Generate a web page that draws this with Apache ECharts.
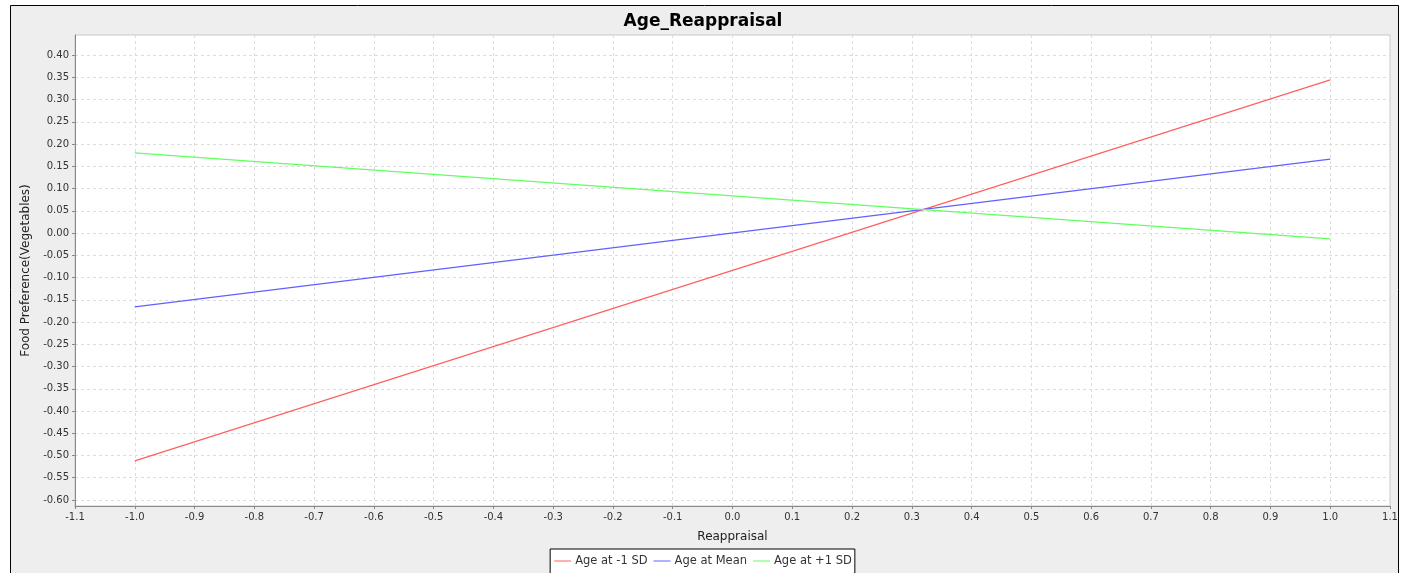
<!DOCTYPE html>
<html><head><meta charset="utf-8">
<script src="https://cdn.jsdelivr.net/npm/echarts@6/dist/echarts.min.js"></script>
<style>html,body{margin:0;padding:0;background:#fff}#c{width:1406px;height:573px}</style>
</head><body><div id="c"></div>
<script>
const title = 'Age_Reappraisal';
const xName = 'Reappraisal';
const yName = 'Food Preference(Vegetables)';
const seriesNames = ['Age at -1 SD', 'Age at Mean', 'Age at +1 SD'];
const seriesColors = ['#ff6060', '#6060ff', '#60ff60'];
const xValues = [-1.0, 1.0];
const lowSD = [-0.512, 0.344];
const meanAge = [-0.166, 0.166];
const highSD = [0.180, -0.013];
const yTicks = [-0.60,-0.55,-0.50,-0.45,-0.40,-0.35,-0.30,-0.25,-0.20,-0.15,-0.10,-0.05,0.00,0.05,0.10,0.15,0.20,0.25,0.30,0.35,0.40];
const xTicks = [-1.1,-1.0,-0.9,-0.8,-0.7,-0.6,-0.5,-0.4,-0.3,-0.2,-0.1,0.0,0.1,0.2,0.3,0.4,0.5,0.6,0.7,0.8,0.9,1.0,1.1];

const allSeries = [lowSD, meanAge, highSD];
const font = 'DejaVu Sans, Liberation Sans, sans-serif';
const chart = echarts.init(document.getElementById('c'), null, {renderer: 'canvas'});
chart.setOption({
  backgroundColor: '#ffffff',
  animation: false,
  graphic: [{
    type: 'rect', z: -10, silent: true,
    shape: {x: 10.5, y: 5.5, width: 1388, height: 580},
    style: {fill: '#eeeeee', stroke: '#000000', lineWidth: 1}
  }],
  title: {
    text: title, left: 'center', top: 8,
    textStyle: {fontFamily: font, fontWeight: 'bold', fontSize: 17, color: '#000'}
  },
  legend: {
    bottom: -4, left: 'center',
    data: seriesNames,
    icon: 'rect', itemWidth: 17, itemHeight: 1, itemGap: 6,
    borderColor: '#000', borderWidth: 1, borderRadius: 0,
    padding: [6, 3, 10, 4],
    backgroundColor: '#ffffff',
    textStyle: {fontFamily: font, fontSize: 11.5, color: '#333', padding: [0,0,0,-1]}
  },
  grid: {
    left: 75, right: 16, top: 35, bottom: 67,
    show: true, backgroundColor: '#ffffff', borderColor: '#c8c8c8', borderWidth: 1
  },
  xAxis: {
    type: 'value', min: -1.1, max: 1.1,
    name: xName, nameLocation: 'middle', nameGap: 25,
    nameTextStyle: {fontFamily: font, fontSize: 12, color: '#222'},
    axisLine: {show: true, onZero: false, lineStyle: {color: '#888', width: 1}},
    axisTick: {show: true, length: 3, inside: false, customValues: xTicks, lineStyle: {color: '#888'}},
    axisLabel: {customValues: xTicks, fontFamily: font, fontSize: 10, color: '#333', margin: 6,
      formatter: v => v.toFixed(1)},
    splitLine: {show: true, lineStyle: {color: '#dcdcdc', type: [3, 3], width: 1}}
  },
  yAxis: {
    type: 'value', min: -0.6135, max: 0.445,
    name: yName, nameLocation: 'middle', nameGap: 40, nameRotate: 90,
    nameTextStyle: {fontFamily: font, fontSize: 12, color: '#222'},
    axisLine: {show: true, onZero: false, lineStyle: {color: '#888', width: 1}},
    axisTick: {show: true, length: 3, customValues: yTicks, lineStyle: {color: '#888'}},
    axisLabel: {customValues: yTicks, fontFamily: font, fontSize: 10, color: '#333', margin: 6,
      formatter: v => v.toFixed(2)},
    splitLine: {show: true, lineStyle: {color: '#dcdcdc', type: [3, 3], width: 1}}
  },
  series: seriesNames.map((n, i) => ({
    name: n, type: 'line', showSymbol: false, symbol: 'none',
    data: xValues.map((x, j) => [x, allSeries[i][j]]),
    lineStyle: {color: seriesColors[i], width: 1.2},
    itemStyle: {color: seriesColors[i]}
  }))
});
</script></body></html>
